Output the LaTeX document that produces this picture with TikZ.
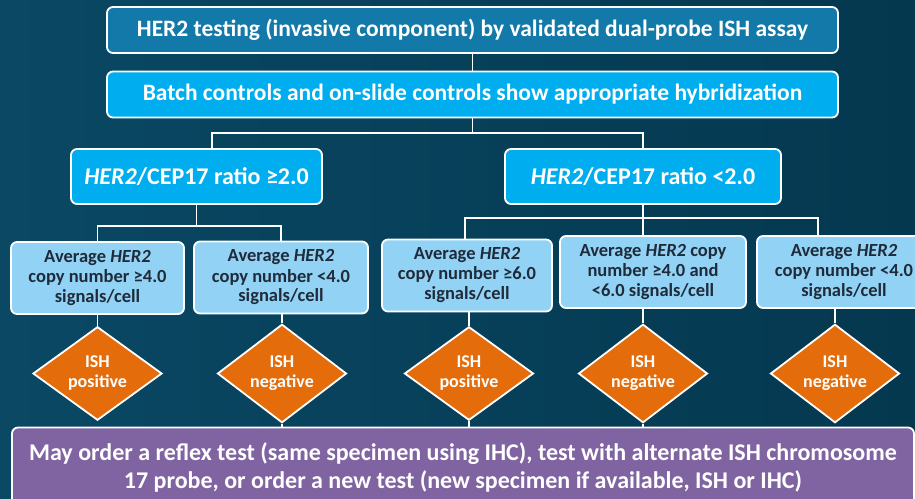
\documentclass[tikz,border=0pt]{standalone}
\usepackage{fontspec}
\setmainfont{Carlito}
\usepackage{tikz}
\usetikzlibrary{shapes,positioning,calc}
\definecolor{bgleft}{HTML}{0A4864}
\definecolor{bgright}{HTML}{04384F}
\definecolor{topblue}{HTML}{1279A9}
\definecolor{cyanbox}{HTML}{00AEEF}
\definecolor{lightbox}{HTML}{92D3F5}
\definecolor{darktext}{HTML}{1F2B3A}
\definecolor{orangebox}{HTML}{E46C0A}
\definecolor{purplebox}{HTML}{8064A2}
\tikzstyle{line}=[draw,white,line width=1.6pt]
\tikzstyle{block} =
  [rectangle, draw=white, line width=1.8pt, rounded corners=6pt,
   text=white, align=center, inner sep=0pt]
\tikzstyle{wide} =
  [block, minimum width=731pt, minimum height=46pt,
   font=\bfseries\fontsize{23.5}{26}\selectfont]
\tikzstyle{ratio} =
  [block, fill=cyanbox, minimum height=55pt,
   font=\bfseries\fontsize{24}{28}\selectfont]
\tikzstyle{copies} =
  [block, fill=lightbox, text=darktext, minimum height=72pt,
   font=\bfseries\fontsize{18.5}{20}\selectfont]
\tikzstyle{result} =
  [diamond, draw=white, line width=1.8pt, fill=orangebox, text=white,
   align=center, inner sep=0pt, minimum width=129pt, minimum height=87pt,
   font=\bfseries\fontsize{18}{20}\selectfont]
\tikzstyle{note} =
  [block, fill=purplebox, minimum width=902pt, minimum height=80pt,
   font=\bfseries\fontsize{24}{27.5}\selectfont]
\begin{document}
\begin{tikzpicture}[x=1pt, y=-1pt]
  \useasboundingbox (0,0) rectangle (915,498);
  \clip (0,0) rectangle (915,498);
  \fill [left color=bgleft, right color=bgright] (0,0) rectangle (915,498);

  \node [wide, fill=topblue] (test) at (472.5,30)
    {HER2 testing (invasive component) by validated dual-probe ISH assay};
  \node [wide, fill=cyanbox] (controls) at (472.5,94.5)
    {Batch controls and on-slide controls show appropriate hybridization};
  \node [ratio, minimum width=251pt] (ratiohi) at (196.5,176.5)
    {\textit{HER2}/CEP17 ratio ≥2.0};
  \node [ratio, minimum width=276pt] (ratiolo) at (643,176.5)
    {\textit{HER2}/CEP17 ratio <2.0};

  \node [copies, minimum width=173pt] (boxa) at (97.5,278)
    {Average \textit{HER2}\\copy number ≥4.0\\signals/cell};
  \node [copies, minimum width=174pt] (boxb) at (281,277.5)
    {Average \textit{HER2}\\copy number <4.0\\signals/cell};
  \node [copies, minimum width=170pt] (boxc) at (467,275.5)
    {Average \textit{HER2}\\copy number ≥6.0\\signals/cell};
  \node [copies, minimum width=186pt] (boxd) at (653,272)
    {Average \textit{HER2} copy\\number ≥4.0 and\\<6.0 signals/cell};
  \node [copies, minimum width=174pt] (boxe) at (844,272)
    {Average \textit{HER2}\\copy number <4.0\\signals/cell};

  \node [result] (d1) at (97.5,373.5) {ISH\\positive};
  \node [result] (d2) at (282,373.5) {ISH\\negative};
  \node [result] (d3) at (469,373.5) {ISH\\positive};
  \node [result] (d4) at (643,373.5) {ISH\\negative};
  \node [result] (d5) at (835,373.5) {ISH\\negative};

  \node [note] (reflex) at (463,467.5)
    {May order a reflex test (same specimen using IHC), test with alternate ISH chromosome\\
     17 probe, or order a new test (new specimen if available, ISH or IHC)};

  % branch points
  \coordinate (split) at (472.5,133);
  \coordinate (hisplit) at (196.5,226);
  \coordinate (losplit) at (643,218);

  \draw [line] (test) -- (controls);
  \draw [line] (controls) -- (split);
  \draw [line] (split) -| ([xshift=15.5pt]ratiohi.north);
  \draw [line] (split) -| (ratiolo.north);

  \draw [line] (ratiohi) -- (hisplit);
  \draw [line] (hisplit) -| (boxa.north);
  \draw [line] (hisplit) -| (boxb.north);
  \draw [line] (ratiolo) -- (losplit);
  \draw [line] (losplit) -| ([xshift=-2pt]boxc.north);
  \draw [line] (losplit) -- (losplit |- boxd.north);
  \draw [line] (losplit) -| ([xshift=-26pt]boxe.north);

  \draw [line] (d1.north) -- (d1.north |- boxa.south);
  \draw [line] (d2.north) -- (d2.north |- boxb.south);
  \draw [line] (d3.north) -- (d3.north |- boxc.south);
  \draw [line] (d4.north) -- (d4.north |- boxd.south);
  \draw [line] (d5.north) -- (d5.north |- boxe.south);

  \draw [line] (d2.south) -- (d2.south |- reflex.north);
  \draw [line] (d3.south) -- (d3.south |- reflex.north);
  \draw [line] (d4.south) -- (d4.south |- reflex.north);
\end{tikzpicture}
\end{document}
